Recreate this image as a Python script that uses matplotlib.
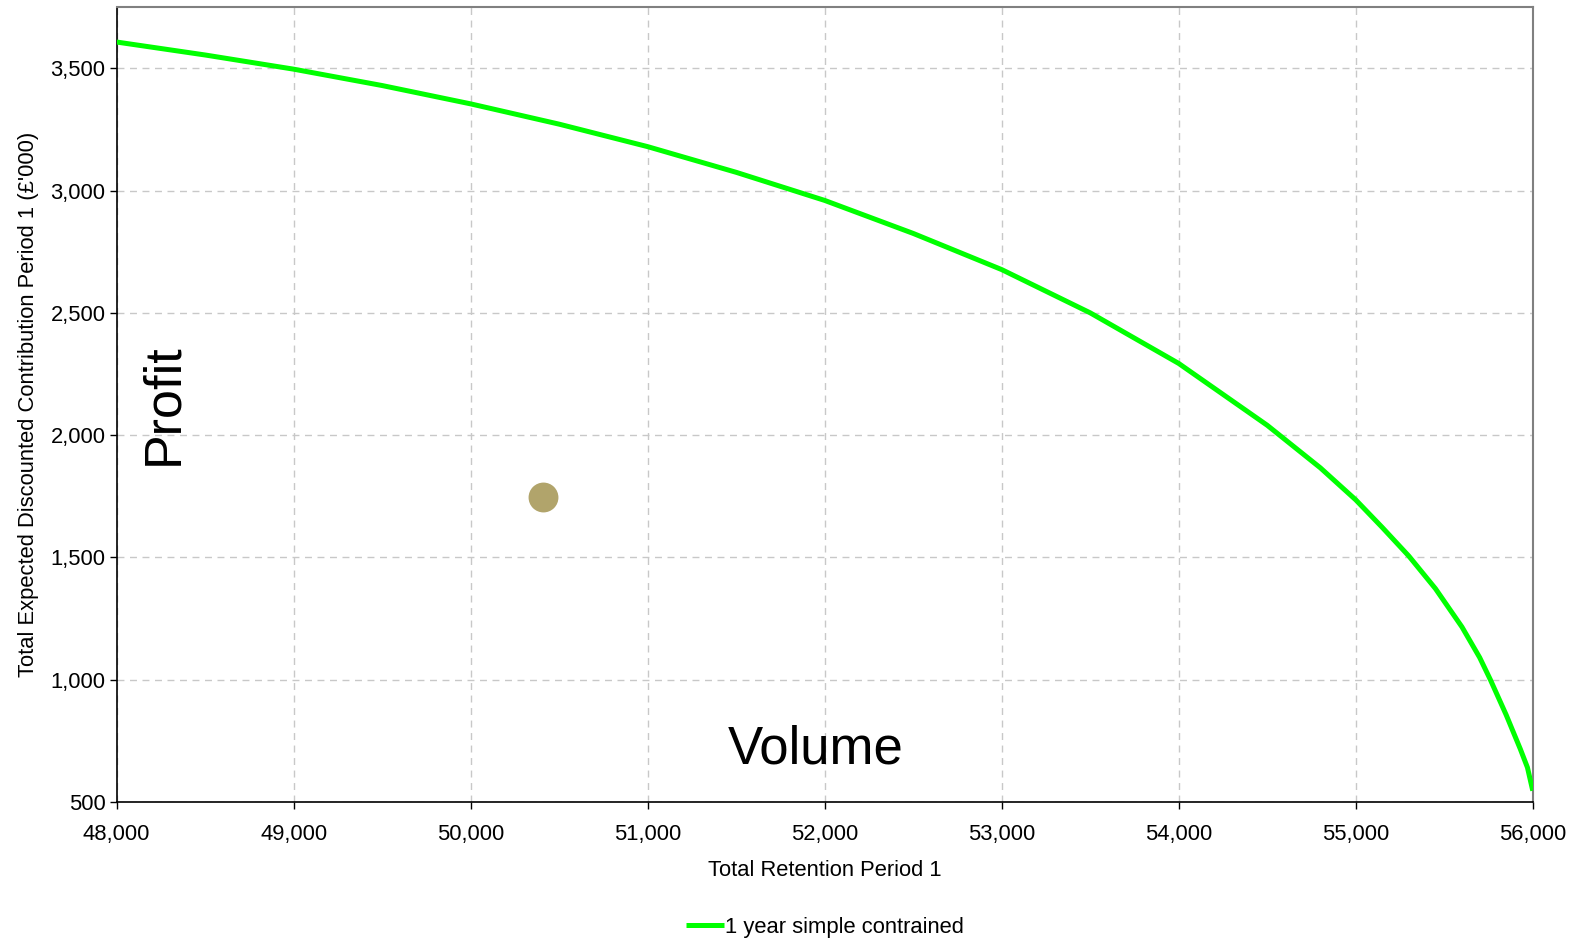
import matplotlib.pyplot as plt
from matplotlib.ticker import FuncFormatter

plt.rcParams['font.family'] = ['Liberation Sans', 'DejaVu Sans']

# frontier curve
retention = [48000, 48500, 49000, 49500, 50000, 50500, 51000, 51500, 52000, 52500,
             53000, 53500, 54000, 54500, 54800, 55000, 55150, 55300, 55450, 55600,
             55700, 55760, 55850, 55930, 55970, 56000]
profit = [3608, 3555, 3497, 3430, 3355, 3272, 3180, 3075, 2960, 2825,
          2677, 2500, 2293, 2040, 1866, 1735, 1622, 1505, 1372, 1215,
          1090, 1000, 855, 715, 640, 545]

# current position
point_x = [50410]
point_y = [1745]

series_name = "1 year simple contrained"

fig = plt.figure(figsize=(15.74, 9.39), dpi=100)
ax = fig.add_axes([0.0741, 0.1462, 0.8997, 0.846])

ax.plot(retention, profit, color='#00ff00', lw=3.6, label=series_name,
        solid_capstyle='butt', solid_joinstyle='round', zorder=3)
ax.plot(point_x, point_y, 'o', color='#b1a46b', markersize=21.5, markeredgewidth=0, zorder=4)

ax.set_xlim(48000, 56000)
ax.set_ylim(500, 3750)
ax.set_xticks(range(48000, 56001, 1000))
ax.set_yticks(range(500, 3501, 500))
fmt = FuncFormatter(lambda v, p: "{:,.0f}".format(v))
ax.xaxis.set_major_formatter(fmt)
ax.yaxis.set_major_formatter(fmt)
ax.tick_params(axis='both', direction='out', length=5, width=1, labelsize=15.8, color='black')
ax.tick_params(axis='x', pad=11)
ax.tick_params(axis='y', pad=3)

ax.grid(True, ls=(0, (5, 4)), color='#c8c8c8', lw=1)
ax.set_axisbelow(True)

for s in ['left', 'bottom']:
    ax.spines[s].set_color('black')
    ax.spines[s].set_linewidth(1.2)
for s in ['top', 'right']:
    ax.spines[s].set_color('#808080')
    ax.spines[s].set_linewidth(1.5)

ax.set_xlabel("Total Retention Period 1", fontsize=15.8, labelpad=11)
ax.set_ylabel("Total Expected Discounted Contribution Period 1 (£'000)", fontsize=15.8, labelpad=8)

ax.text(48267, 2126, "Profit", fontsize=37.5, rotation=90, ha='center', va='center')
ax.text(51950, 715, "Volume", fontsize=38, ha='center', va='center')

ax.legend(loc='upper center', bbox_to_anchor=(0.5, -0.12), frameon=False, fontsize=15.8,
          handlelength=1.75, handletextpad=0.05)

fig.savefig("out.png", dpi=100)
